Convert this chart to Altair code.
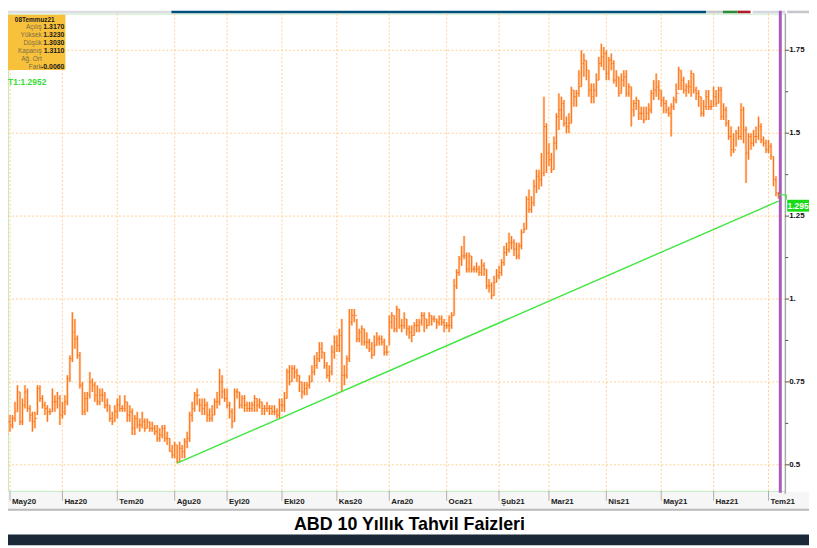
import altair as alt
import pandas as pd

# ---------------- data (US 10Y, daily bars, 2020-04-30 .. 2021-07-08) ----------------
high = [
    # Apr30 + May 2020
    0.65, 0.65, 0.65, 0.69, 0.74, 0.72, 0.70, 0.74, 0.73, 0.68, 0.66, 0.66, 0.74, 0.74, 0.71, 0.69, 0.68, 0.67, 0.73, 0.71, 0.72, 0.71,
    # Jun 2020
    0.69, 0.71, 0.77, 0.83, 0.96, 0.94, 0.89, 0.84, 0.75, 0.72, 0.72, 0.78, 0.76, 0.75, 0.74, 0.73, 0.73, 0.72, 0.70, 0.68, 0.66, 0.68,
    # Jul 2020
    0.70, 0.71, 0.68, 0.71, 0.69, 0.68, 0.67, 0.65, 0.66, 0.64, 0.66, 0.64, 0.64, 0.63, 0.63, 0.62, 0.62, 0.61, 0.62, 0.62, 0.60, 0.58, 0.56,
    # Aug 2020
    0.57, 0.56, 0.57, 0.56, 0.58, 0.60, 0.66, 0.69, 0.72, 0.73, 0.70, 0.70, 0.70, 0.69, 0.67, 0.68, 0.70, 0.72, 0.79, 0.77, 0.73,
    # Sep 2020
    0.73, 0.69, 0.67, 0.73, 0.73, 0.72, 0.71, 0.71, 0.69, 0.69, 0.69, 0.71, 0.70, 0.70, 0.69, 0.68, 0.69, 0.68, 0.68, 0.68, 0.67, 0.70,
    # Oct 2020
    0.70, 0.72, 0.79, 0.80, 0.80, 0.80, 0.79, 0.77, 0.75, 0.75, 0.75, 0.77, 0.80, 0.83, 0.84, 0.87, 0.87, 0.84, 0.81, 0.80, 0.86, 0.89,
    # Nov 2020
    0.89, 0.91, 0.94, 0.80, 0.83, 0.97, 0.97, 0.97, 0.94, 0.91, 0.92, 0.91, 0.90, 0.88, 0.87, 0.89, 0.90, 0.89, 0.89, 0.88, 0.86,
    # Dec 2020
    0.95, 0.96, 0.95, 0.98, 0.97, 0.94, 0.96, 0.94, 0.92, 0.92, 0.93, 0.94, 0.94, 0.96, 0.96, 0.94, 0.96, 0.95, 0.95, 0.94, 0.95, 0.95, 0.94,
    # Jan 2021
    0.93, 0.95, 0.96, 1.06, 1.09, 1.13, 1.16, 1.19, 1.14, 1.14, 1.13, 1.10, 1.11, 1.10, 1.12, 1.11, 1.09, 1.06, 1.05, 1.07, 1.09,
    # Feb 2021
    1.10, 1.12, 1.16, 1.17, 1.20, 1.19, 1.18, 1.17, 1.17, 1.21, 1.23, 1.31, 1.33, 1.31, 1.36, 1.39, 1.39, 1.44, 1.61, 1.53,
    # Mar 2021
    1.47, 1.44, 1.49, 1.56, 1.62, 1.61, 1.60, 1.55, 1.56, 1.64, 1.63, 1.63, 1.69, 1.75, 1.74, 1.72, 1.69, 1.65, 1.65, 1.68, 1.73, 1.77, 1.76,
    # Apr 2021
    1.75, 1.73, 1.74, 1.72, 1.69, 1.67, 1.68, 1.69, 1.69, 1.65, 1.64, 1.60, 1.61, 1.60, 1.58, 1.58, 1.58, 1.59, 1.63, 1.66, 1.68, 1.66,
    # May 2021
    1.63, 1.61, 1.60, 1.58, 1.59, 1.61, 1.65, 1.70, 1.69, 1.67, 1.65, 1.66, 1.69, 1.68, 1.64, 1.63, 1.61, 1.60, 1.63, 1.63, 1.60,
    # Jun 2021
    1.64, 1.63, 1.64, 1.64, 1.59, 1.58, 1.54, 1.52, 1.50, 1.51, 1.52, 1.59, 1.58, 1.52, 1.50, 1.50, 1.51, 1.52, 1.55, 1.53, 1.49, 1.48,
    # Jul 2021
    1.48, 1.47, 1.43, 1.37, 1.323,
]
low = [
    0.59, 0.60, 0.61, 0.63, 0.66, 0.62, 0.62, 0.67, 0.66, 0.63, 0.60, 0.61, 0.65, 0.69, 0.67, 0.65, 0.63, 0.65, 0.66, 0.66, 0.67, 0.62,
    0.64, 0.65, 0.68, 0.75, 0.81, 0.85, 0.82, 0.73, 0.65, 0.65, 0.66, 0.70, 0.72, 0.69, 0.68, 0.68, 0.69, 0.67, 0.66, 0.63, 0.62, 0.63,
    0.64, 0.66, 0.66, 0.66, 0.63, 0.63, 0.59, 0.59, 0.61, 0.60, 0.61, 0.60, 0.61, 0.60, 0.60, 0.59, 0.57, 0.57, 0.58, 0.57, 0.56, 0.54, 0.52,
    0.52, 0.505, 0.51, 0.52, 0.52, 0.55, 0.57, 0.63, 0.66, 0.68, 0.66, 0.65, 0.65, 0.63, 0.63, 0.63, 0.65, 0.67, 0.68, 0.70, 0.69,
    0.67, 0.64, 0.61, 0.63, 0.70, 0.67, 0.67, 0.66, 0.66, 0.66, 0.66, 0.66, 0.66, 0.67, 0.65, 0.65, 0.66, 0.65, 0.65, 0.65, 0.64, 0.64,
    0.66, 0.66, 0.70, 0.74, 0.75, 0.76, 0.75, 0.72, 0.70, 0.71, 0.71, 0.73, 0.75, 0.77, 0.79, 0.81, 0.82, 0.79, 0.76, 0.75, 0.77, 0.82,
    0.84, 0.84, 0.72, 0.74, 0.76, 0.81, 0.92, 0.93, 0.87, 0.87, 0.86, 0.86, 0.85, 0.84, 0.82, 0.83, 0.86, 0.86, 0.86, 0.83, 0.83,
    0.86, 0.91, 0.90, 0.90, 0.91, 0.90, 0.91, 0.89, 0.88, 0.87, 0.89, 0.90, 0.90, 0.92, 0.90, 0.91, 0.92, 0.92, 0.93, 0.91, 0.92, 0.92, 0.90,
    0.91, 0.90, 0.91, 0.95, 1.03, 1.07, 1.10, 1.12, 1.08, 1.08, 1.08, 1.08, 1.08, 1.07, 1.07, 1.07, 1.03, 1.02, 1.00, 1.01, 1.05,
    1.06, 1.07, 1.10, 1.13, 1.14, 1.15, 1.13, 1.12, 1.12, 1.15, 1.20, 1.21, 1.26, 1.26, 1.28, 1.32, 1.33, 1.34, 1.37, 1.38,
    1.40, 1.38, 1.39, 1.45, 1.51, 1.54, 1.52, 1.50, 1.50, 1.53, 1.58, 1.58, 1.61, 1.64, 1.67, 1.66, 1.61, 1.59, 1.59, 1.61, 1.66, 1.70, 1.69,
    1.66, 1.66, 1.69, 1.65, 1.64, 1.61, 1.62, 1.64, 1.61, 1.61, 1.52, 1.55, 1.57, 1.54, 1.54, 1.53, 1.54, 1.54, 1.56, 1.60, 1.61, 1.60,
    1.58, 1.56, 1.56, 1.55, 1.49, 1.57, 1.59, 1.63, 1.63, 1.62, 1.61, 1.62, 1.61, 1.62, 1.60, 1.58, 1.55, 1.55, 1.57, 1.57, 1.57,
    1.58, 1.58, 1.59, 1.54, 1.54, 1.52, 1.48, 1.43, 1.44, 1.46, 1.48, 1.48, 1.47, 1.35, 1.42, 1.45, 1.46, 1.47, 1.48, 1.47, 1.46, 1.44,
    1.44, 1.42, 1.34, 1.31, 1.303,
]
close = [
    0.63, 0.62, 0.64, 0.66, 0.72, 0.63, 0.68, 0.72, 0.67, 0.65, 0.63, 0.64, 0.73, 0.70, 0.68, 0.67, 0.66, 0.66, 0.69, 0.69, 0.70, 0.65,
    0.66, 0.69, 0.76, 0.82, 0.90, 0.88, 0.83, 0.74, 0.66, 0.70, 0.71, 0.75, 0.74, 0.71, 0.69, 0.71, 0.71, 0.68, 0.68, 0.64, 0.63, 0.66,
    0.68, 0.67, 0.67, 0.69, 0.65, 0.66, 0.61, 0.64, 0.62, 0.62, 0.63, 0.61, 0.63, 0.61, 0.61, 0.60, 0.58, 0.59, 0.61, 0.58, 0.58, 0.54, 0.53,
    0.56, 0.51, 0.55, 0.54, 0.57, 0.58, 0.65, 0.67, 0.71, 0.71, 0.68, 0.67, 0.68, 0.65, 0.64, 0.65, 0.69, 0.69, 0.75, 0.72, 0.70,
    0.68, 0.66, 0.63, 0.72, 0.72, 0.68, 0.70, 0.68, 0.67, 0.67, 0.68, 0.70, 0.68, 0.69, 0.67, 0.67, 0.67, 0.67, 0.66, 0.66, 0.65, 0.68,
    0.68, 0.70, 0.78, 0.75, 0.79, 0.78, 0.77, 0.75, 0.72, 0.73, 0.74, 0.75, 0.78, 0.80, 0.82, 0.85, 0.84, 0.80, 0.77, 0.78, 0.84, 0.87,
    0.86, 0.89, 0.77, 0.77, 0.82, 0.93, 0.95, 0.95, 0.88, 0.90, 0.91, 0.87, 0.87, 0.85, 0.83, 0.86, 0.88, 0.88, 0.87, 0.84, 0.84,
    0.93, 0.95, 0.91, 0.97, 0.92, 0.92, 0.94, 0.91, 0.90, 0.89, 0.92, 0.92, 0.93, 0.95, 0.94, 0.92, 0.95, 0.94, 0.94, 0.93, 0.94, 0.93, 0.92,
    0.92, 0.92, 0.95, 1.04, 1.08, 1.12, 1.13, 1.13, 1.09, 1.13, 1.09, 1.09, 1.09, 1.08, 1.10, 1.09, 1.04, 1.04, 1.01, 1.05, 1.07,
    1.08, 1.11, 1.14, 1.15, 1.17, 1.17, 1.15, 1.13, 1.16, 1.20, 1.21, 1.30, 1.27, 1.29, 1.34, 1.37, 1.36, 1.38, 1.52, 1.44,
    1.42, 1.39, 1.47, 1.55, 1.57, 1.59, 1.53, 1.52, 1.53, 1.63, 1.61, 1.62, 1.64, 1.71, 1.72, 1.69, 1.63, 1.61, 1.63, 1.66, 1.71, 1.73, 1.74,
    1.68, 1.72, 1.71, 1.66, 1.67, 1.62, 1.66, 1.67, 1.62, 1.64, 1.57, 1.59, 1.60, 1.56, 1.56, 1.54, 1.56, 1.57, 1.62, 1.63, 1.64, 1.63,
    1.60, 1.59, 1.57, 1.56, 1.58, 1.60, 1.62, 1.69, 1.66, 1.63, 1.64, 1.64, 1.68, 1.63, 1.62, 1.61, 1.56, 1.58, 1.61, 1.58, 1.58,
    1.61, 1.59, 1.63, 1.55, 1.57, 1.53, 1.49, 1.45, 1.45, 1.50, 1.49, 1.57, 1.51, 1.44, 1.49, 1.47, 1.49, 1.49, 1.52, 1.48, 1.47, 1.45,
    1.46, 1.43, 1.36, 1.32, 1.311,
]
last_open = 1.317

month_labels = ["May20", "Haz20", "Tem20", "Ağu20", "Eyl20", "Eki20", "Kas20", "Ara20",
                "Oca21", "Şub21", "Mar21", "Nis21", "May21", "Haz21", "Tem21"]
y_ticks = [0.5, 0.75, 1.0, 1.25, 1.5, 1.75]
y_tick_labels = ["0.5", "0.75", "1.", "1.25", "1.5", "1.75"]
y_minor = [0.625, 0.875, 1.125, 1.375, 1.625]

trend_idx = [68, 309]
trend_val = [0.505, 1.2952]

info_title = "08Temmuz21"
info_labels = ["Açılış", "Yüksek", "Düşük", "Kapanış", "Ağ. Ort", "Fark"]
info_values = ["1.3170", "1.3230", "1.3030", "1.3110", "", "-0.0060"]
t1_text = "T1:1.2952"
last_label = "1.295"
title_text = "ABD 10 Yıllık Tahvil Faizleri"

# ---------------- frames ----------------
dates = pd.bdate_range("2020-04-30", "2021-07-08")
dates = dates[dates != pd.Timestamp("2021-07-05")]
n = min(len(dates), len(high), len(low), len(close))
df = pd.DataFrame({"i": list(range(n)), "date": dates[:n],
                   "high": high[:n], "low": low[:n], "close": close[:n]})
df["open"] = df["close"].shift(1)
df.loc[0, "open"] = df.loc[0, "close"]
df.loc[n - 1, "open"] = last_open
df["il"] = df["i"] - 0.42
df["ir"] = df["i"] + 0.42

mstart = df.groupby(df["date"].dt.to_period("M"))["i"].min().tolist()[1:]
month_df = pd.DataFrame({"i": mstart[:len(month_labels)], "label": month_labels[:len(mstart)]})
trend_df = pd.DataFrame({"i": trend_idx, "v": trend_val})
ytick_df = pd.DataFrame({"v": y_ticks, "t": y_tick_labels})
minor_df = pd.DataFrame({"v": y_minor})
dummy = pd.DataFrame({"d": [0]})

FONT = "Liberation Sans"
W, H = 785, 482
XS = alt.Scale(domain=[0.198, 311.71], nice=False, zero=False)
YS = alt.Scale(domain=[0.4215, 1.8605], nice=False, zero=False)
GRID = "#ffcf92"


def X(field):
    return alt.X(field, scale=XS, axis=None)


def Y(field):
    return alt.Y(field, scale=YS, axis=None)


def rect(x1, x2, y1, y2, color, opacity=1.0):
    return alt.Chart(dummy).mark_rect(color=color, opacity=opacity).encode(
        x=alt.value(x1), x2=alt.value(x2), y=alt.value(y1), y2=alt.value(y2))


def txt(s, x, y, size=7, weight="normal", color="#000000", align="left", baseline="middle"):
    return alt.Chart(dummy).mark_text(text=s, align=align, baseline=baseline, fontSize=size,
                                      fontWeight=weight, color=color, font=FONT).encode(
        x=alt.value(x), y=alt.value(y))


# grid, ticks, axis line (through the scales)
hgrid = alt.Chart(ytick_df).mark_rule(color=GRID, strokeDash=[2, 2], strokeWidth=1).encode(
    x=alt.value(0), x2=alt.value(W), y=Y("v:Q"))
vgrid = alt.Chart(month_df).mark_rule(color=GRID, strokeDash=[2, 2], strokeWidth=1).encode(
    x=X("i:Q"), y=alt.value(0), y2=alt.value(H))
xticks = alt.Chart(month_df).mark_rule(color="#b0b0b0", strokeWidth=1).encode(
    x=X("i:Q"), y=alt.value(H), y2=alt.value(H + 10))
ydomain = alt.Chart(dummy).mark_rule(color="#8f8f8f", strokeWidth=1).encode(
    x=alt.value(W), y=alt.value(0), y2=alt.value(H + 3))
yticks = alt.Chart(ytick_df).mark_rule(color="#555555", strokeWidth=1).encode(
    x=alt.value(W), x2=alt.value(W + 4), y=Y("v:Q"))
yminor = alt.Chart(minor_df).mark_rule(color="#555555", strokeWidth=1).encode(
    x=alt.value(W), x2=alt.value(W + 3), y=Y("v:Q"))
ylabels = alt.Chart(ytick_df).mark_text(align="left", baseline="middle", fontSize=8,
                                        fontWeight="bold", font=FONT, color="#111111").encode(
    x=alt.value(W + 4), y=Y("v:Q"), text="t:N")
mlabels = alt.Chart(month_df).mark_text(align="left", baseline="alphabetic", dx=2,
                                        fontSize=8, fontWeight="bold", font=FONT,
                                        color="#1c1c1c").encode(
    x=X("i:Q"), y=alt.value(495), text="label:N")

# OHLC bars
base = alt.Chart(df)
halo = base.mark_rule(color="#ffc192", strokeWidth=2.5, opacity=0.75).encode(
    x=X("i:Q"), y=Y("low:Q"), y2="high:Q")
core = base.mark_rule(color="#ff7519", strokeWidth=1.1).encode(
    x=X("i:Q"), y=Y("low:Q"), y2="high:Q")
ctick = base.mark_rule(color="#ff7519", strokeWidth=1).encode(
    x=X("i:Q"), x2="ir:Q", y=Y("close:Q"))
otick = base.mark_rule(color="#ff7519", strokeWidth=1).encode(
    x=X("il:Q"), x2="i:Q", y=Y("open:Q"))

trend = alt.Chart(trend_df).mark_line(color="#3ee63e", strokeWidth=1.4).encode(
    x=X("i:Q"), y=Y("v:Q"))

purple = alt.Chart(dummy).mark_rule(color="#a95abd", strokeWidth=3).encode(
    x=alt.value(780), y=alt.value(-3), y2=alt.value(484))

layers = [
    # toolbar remnants at top (above the plot)
    rect(-8, 165, -3, -0.4, "#dcdce2"),
    rect(165, 705, -3, -0.4, "#004f7d"),
    rect(705, 722, -3, -0.4, "#c9c9d2"),
    rect(722, 737, -3, -0.4, "#2c8a3a"),
    rect(737, 750, -3, -0.4, "#b01c2a"),
    rect(752, 785, -3, -0.4, "#d6d6e2"),
    rect(787, 809, -3, -0.4, "#c6c6cc"),
    # x-axis band + separator + footer
    rect(-8, 809, 483, 500, "#000000", 0.035),
    rect(-8, 809, 500, 502, "#b9b9b9"),
    rect(-8, 809, 526, 537, "#1b2838"),
    hgrid, vgrid, xticks, ydomain, yticks, yminor, ylabels, mlabels,
    halo, core, otick, ctick, trend, purple,
    # little end marker of trend line
    alt.Chart(dummy).mark_rule(color="#3ee63e", strokeWidth=1.2).encode(
        x=alt.value(779), x2=alt.value(786), y=alt.value(183)),
    alt.Chart(dummy).mark_rule(color="#3ee63e", strokeWidth=1.2).encode(
        x=alt.value(786), y=alt.value(183), y2=alt.value(188)),
    # last value label
    rect(787, 809, 188, 200, "#19dc19"),
    txt(last_label, 798, 194.5, size=8.5, weight="bold", color="#ffffff", align="center"),
    # info box
    rect(-3, 58, 1, 57, "#f8c13c"),
    txt(info_title, 27, 6.5, size=6.5, weight="bold", color="#1a1a1a", align="center"),
]
row_y = [14, 22, 30, 38, 46, 53.5]
for lab, val, yy in zip(info_labels, info_values, row_y):
    layers.append(txt(lab, 34, yy, size=6.5, color="#7d6c45", align="right"))
    if val:
        layers.append(txt(val, 57, yy, size=7, weight="bold", color="#1a1a1a", align="right"))
layers += [
    txt(t1_text, 0, 69, size=8.5, weight="bold", color="#35dc35"),
    txt(title_text, 405.5, 522, size=18, weight="bold", color="#000000",
        align="center", baseline="alphabetic"),
]

chart = alt.layer(*layers).properties(
    width=W, height=H,
    autosize=alt.AutoSizeParams(type="none"),
    padding={"left": 0, "top": 3, "right": 24, "bottom": 55},
    background="#ffffff",
).configure_view(stroke="#c2ecc2", strokeWidth=1)

chart.save("out.html", embed_options={"renderer": "svg", "actions": False})
